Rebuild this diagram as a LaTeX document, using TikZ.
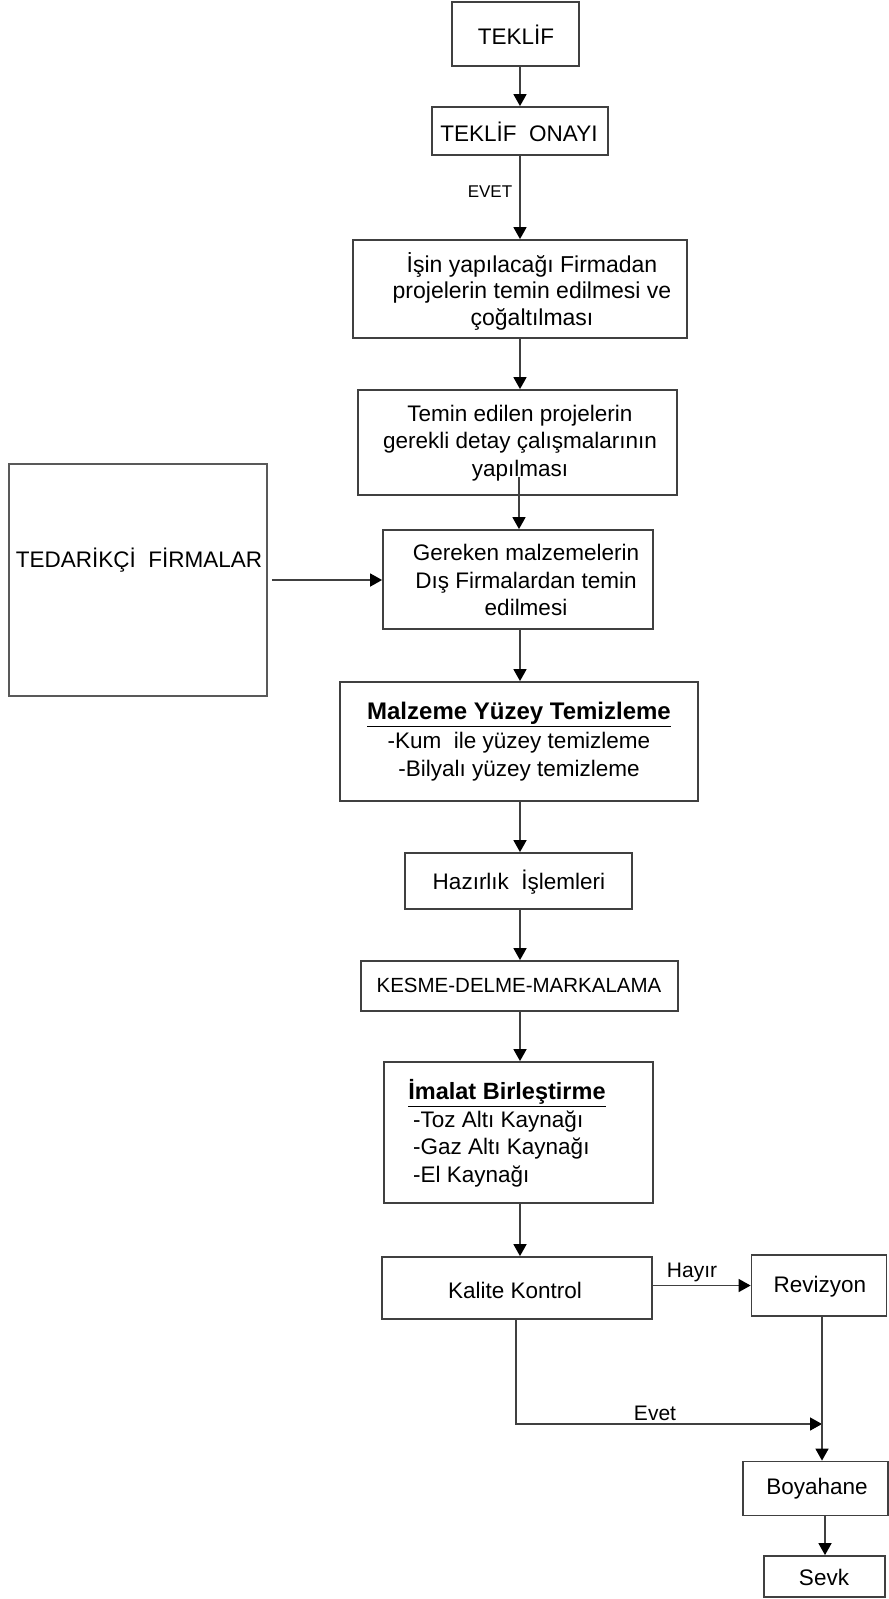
\documentclass[tikz,border=0pt]{standalone}
\usepackage{fontspec}
\setmainfont{Liberation Sans}
\usetikzlibrary{arrows.meta,calc}
\definecolor{boxc}{HTML}{404040}
\definecolor{arrc}{HTML}{404040}
\begin{document}
\begin{tikzpicture}[x=1pt,y=-1pt,
  box/.style={draw=boxc, line width=1.8pt, inner sep=0pt},
  txt/.style={inner sep=0pt, align=center, font=\fontsize{22.5}{27.5}\selectfont, text=black},
  arr/.style={draw=arrc, line width=1.6pt, -{Triangle[length=12pt,width=13pt,color=black,fill=black]}},
  lbl/.style={inner sep=0pt, font=\fontsize{21}{25}\selectfont, text=black}]
\useasboundingbox (0,0) rectangle (889,1599);
% boxes
\node[box, minimum width=127pt, minimum height=64pt] (teklif) at (515.5,34) {};
\node[box, minimum width=176pt, minimum height=48pt] (onay) at (520,131) {};
\node[box, minimum width=334pt, minimum height=98pt] (isin) at (520,289) {};
\node[box, minimum width=319pt, minimum height=105pt] (temin) at (517.5,442.5) {};
\node[box, minimum width=270pt, minimum height=99pt] (gereken) at (518,579.5) {};
\node[box, draw=black!65, minimum width=258pt, minimum height=232pt] (tedarik) at (138,580) {};
\node[box, minimum width=358pt, minimum height=119pt] (malzeme) at (519,741.5) {};
\node[box, minimum width=227pt, minimum height=56pt] (hazirlik) at (518.5,881) {};
\node[box, minimum width=317pt, minimum height=50pt] (kesme) at (519.5,986) {};
\node[box, minimum width=269pt, minimum height=141pt] (imalat) at (518.5,1132.5) {};
\node[box, minimum width=270pt, minimum height=62pt] (kalite) at (517,1288) {};
\node[box, minimum width=135pt, minimum height=61pt] (revizyon) at (819,1285.5) {};
\node[box, minimum width=145pt, minimum height=54pt] (boyahane) at (815.5,1488.5) {};
\node[box, minimum width=121pt, minimum height=41pt] (sevk) at (824.5,1576.5) {};
% texts
\node[txt] (teklif-t) at (516,35) {TEKLİF};
\node[txt] (onay-t) at (519,132) {TEKLİF\ \ ONAYI};
\node[txt, font=\fontsize{23}{26.5}\selectfont] (isin-t) at (532,291) {İşin yapılacağı Firmadan\\projelerin temin edilmesi ve\\çoğaltılması};
\node[txt] (temin-t) at (520,443) {Temin edilen projelerin\\gerekli detay çalışmalarının\\yapılması};
\node[txt] (gereken-t) at (526,580) {Gereken malzemelerin\\Dış Firmalardan temin\\edilmesi};
\node[txt] (tedarik-t) at (139,560) {TEDARİKÇİ\ \ FİRMALAR};
\node[txt, font=\fontsize{22.5}{28.5}\selectfont] (malzeme-t) at (519,742) {{\fontsize{24}{28.5}\selectfont\underline{\textbf{Malzeme Yüzey Temizleme}}}\\-Kum\ \ ile yüzey temizleme\\-Bilyalı yüzey temizleme};
\node[txt] (hazirlik-t) at (519,882) {Hazırlık\ \ İşlemleri};
\node[txt, font=\fontsize{20.5}{24}\selectfont] (kesme-t) at (519,985) {KESME-DELME-MARKALAMA};
\node[txt, font=\fontsize{23.5}{27.5}\selectfont] (imalat-h) at (507,1093) {\underline{\textbf{İmalat Birleştirme}}};
\node[txt, align=left, anchor=west, font=\fontsize{22.5}{27.5}\selectfont] (imalat-l) at (413,1149) {-Toz Altı Kaynağı\\-Gaz Altı Kaynağı\\-El Kaynağı};
\node[txt] (kalite-t) at (515,1290) {Kalite Kontrol};
\node[txt] (revizyon-t) at (820,1287) {Revizyon};
\node[txt] (boyahane-t) at (817,1489) {Boyahane};
\node[txt] (sevk-t) at (824,1577) {Sevk};
% connectors
\coordinate (sx) at (520,0);
\draw[arr] (teklif.south -| sx) -- (onay.north -| sx);
\draw[arr] (onay.south -| sx) -- (isin.north -| sx);
\node[lbl, font=\fontsize{17}{20}\selectfont] (evet1) at (490,192) {EVET};
\draw[arr] (isin.south -| sx) -- (temin.north -| sx);
\coordinate (tstart) at (519,477);
\draw[arr] (tstart) -- (tstart |- gereken.north);
\draw[arr] ([xshift=4pt]tedarik.east) -- (tedarik.east -| gereken.west);
\draw[arr] (gereken.south -| sx) -- (malzeme.north -| sx);
\draw[arr] (malzeme.south -| sx) -- (hazirlik.north -| sx);
\draw[arr] (hazirlik.south -| sx) -- (kesme.north -| sx);
\draw[arr] (kesme.south -| sx) -- (imalat.north -| sx);
\draw[arr] (imalat.south -| sx) -- (kalite.north -| sx);
\draw[arr] (kalite.east |- revizyon.west) -- (revizyon.west);
\node[lbl] (hayir) at (692,1272) {Hayır};
\coordinate (kx) at (516,0);
\coordinate (evetc) at (822,1424);
\draw[arr] (kalite.south -| kx) |- (evetc);
\node[lbl] (evet2) at (655,1413) {Evet};
\draw[arr] (revizyon.south -| evetc) -- (boyahane.north -| evetc);
\coordinate (bx) at (825,0);
\draw[arr] (boyahane.south -| bx) -- (sevk.north -| bx);
\end{tikzpicture}
\end{document}
